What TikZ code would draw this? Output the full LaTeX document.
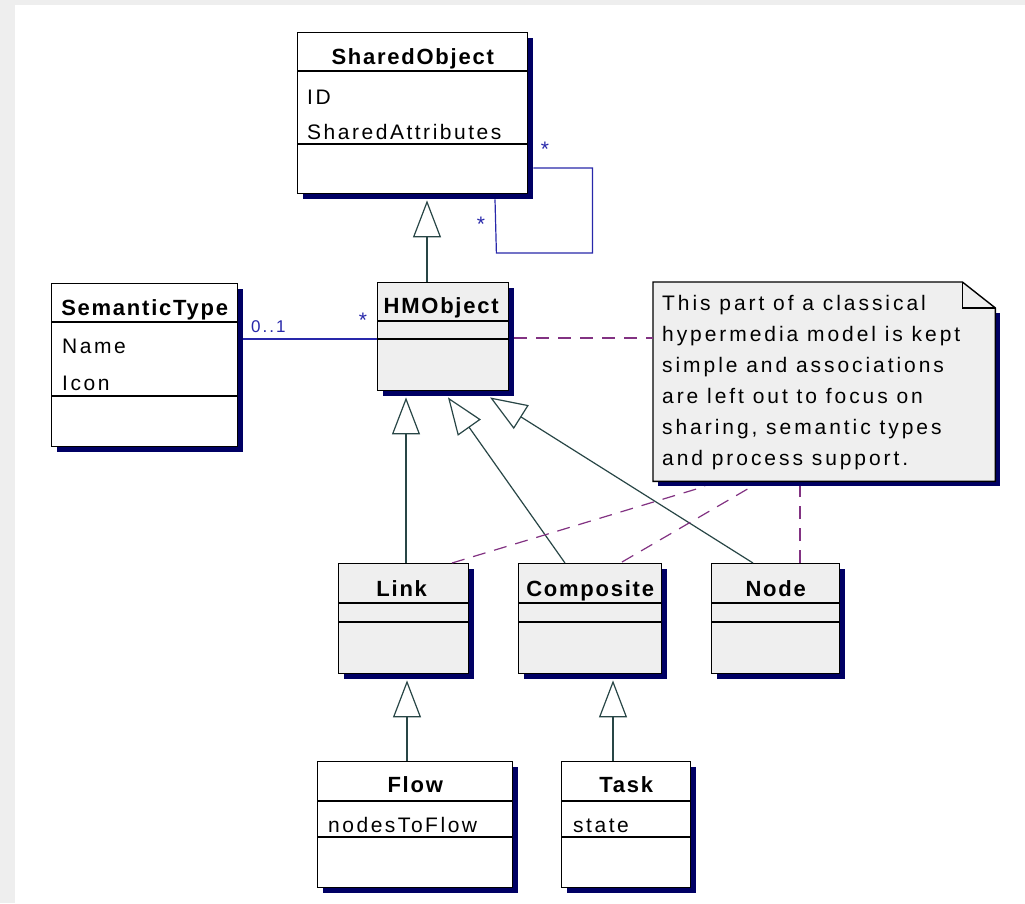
\documentclass[tikz,border=0pt]{standalone}
\usepackage{fontspec}
\setmainfont{Liberation Sans}
\newfontfamily\umlreg[LetterSpace=12]{Liberation Sans}
\newfontfamily\umlnote[LetterSpace=14]{Liberation Sans}
\newfontfamily\umlbf[LetterSpace=8]{Liberation Sans Bold}
\usetikzlibrary{arrows.meta,calc,shadows}
\definecolor{shad}{RGB}{0,0,100}
\definecolor{assocblue}{RGB}{40,40,170}
\definecolor{genline}{RGB}{40,70,70}
\definecolor{notedash}{RGB}{130,50,130}
\definecolor{clsgray}{RGB}{239,239,239}
\definecolor{bggray}{RGB}{238,238,238}
\tikzset{
  cls/.style={draw=black, line width=1.4pt, rectangle, inner sep=0pt, anchor=north west,
    drop shadow={shadow xshift=5pt, shadow yshift=-5pt, fill=shad, opacity=1}},
  sepline/.style={draw=black, line width=1.4pt},
  title/.style={anchor=base, inner sep=0pt, font=\umlbf\fontsize{22}{26}\selectfont},
  attr/.style={anchor=base west, inner sep=0pt, font=\umlreg\fontsize{21}{25}\selectfont},
  notetext/.style={anchor=base west, inner sep=0pt, font=\umlnote\fontsize{21}{25}\selectfont},
  mult/.style={inner sep=0pt, text=assocblue, font=\umlreg\fontsize{17}{20}\selectfont},
  star/.style={inner sep=0pt, text=assocblue, font=\umlreg\fontsize{21}{24}\selectfont},
  gen/.style={draw=genline, line width=1.2pt, -{Triangle[open, length=37pt, width=28pt]}},
  assoc/.style={draw=assocblue, line width=1.2pt},
  notedash/.style={draw=notedash, line width=1.2pt, dash pattern=on 13pt off 9pt},
  notebox/.style={draw=black, line width=1.4pt, fill=clsgray},
}
\begin{document}
\begin{tikzpicture}[x=1pt, y=-1pt]
\useasboundingbox (0,0) rectangle (1025,903);
\fill[bggray] (0,0) rectangle (1025,903);
\fill[white] (15,5) rectangle (1025,903);

% classes
\node[cls, fill=white, minimum width=230pt, minimum height=161pt] (so) at (297,32) {};
\node[cls, fill=white, minimum width=186pt, minimum height=163pt] (st) at (51,283) {};
\node[cls, fill=clsgray, minimum width=131pt, minimum height=108pt] (hm) at (377,282) {};
\node[cls, fill=clsgray, minimum width=130pt, minimum height=110pt] (link) at (338,563) {};
\node[cls, fill=clsgray, minimum width=143pt, minimum height=110pt] (comp) at (518,563) {};
\node[cls, fill=clsgray, minimum width=128pt, minimum height=110pt] (node) at (711,563) {};
\node[cls, fill=white, minimum width=195pt, minimum height=126pt] (flow) at (317,761) {};
\node[cls, fill=white, minimum width=129pt, minimum height=126pt] (task) at (561,761) {};

% separators
\draw[sepline] ($(so.north west)+(0,39)$) -- ($(so.north east)+(0,39)$);
\draw[sepline] ($(so.north west)+(0,112)$) -- ($(so.north east)+(0,112)$);
\draw[sepline] ($(st.north west)+(0,39)$) -- ($(st.north east)+(0,39)$);
\draw[sepline] ($(st.north west)+(0,113)$) -- ($(st.north east)+(0,113)$);
\draw[sepline] ($(hm.north west)+(0,39)$) -- ($(hm.north east)+(0,39)$);
\draw[sepline] ($(hm.north west)+(0,57)$) -- ($(hm.north east)+(0,57)$);
\foreach \b in {link,comp,node}{
  \draw[sepline] ($(\b.north west)+(0,40)$) -- ($(\b.north east)+(0,40)$);
  \draw[sepline] ($(\b.north west)+(0,59)$) -- ($(\b.north east)+(0,59)$);
}
\foreach \b in {flow,task}{
  \draw[sepline] ($(\b.north west)+(0,40)$) -- ($(\b.north east)+(0,40)$);
  \draw[sepline] ($(\b.north west)+(0,76)$) -- ($(\b.north east)+(0,76)$);
}

% texts
\node[title] (soT) at ($(so.north)+(0,32)$) {SharedObject};
\node[attr] (soA1) at ($(so.north west)+(10,72)$) {ID};
\node[attr] (soA2) at ($(so.north west)+(10,107)$) {SharedAttributes};
\node[title] (stT) at ($(st.north)+(0,32)$) {SemanticType};
\node[attr] (stA1) at ($(st.north west)+(11,70)$) {Name};
\node[attr] (stA2) at ($(st.north west)+(11,107)$) {Icon};
\node[title] (hmT) at ($(hm.north)+(-2,31)$) {HMObject};
\node[title] (linkT) at ($(link.north)+(-2,33)$) {Link};
\node[title] (compT) at ($(comp.north)+(0,33)$) {Composite};
\node[title] (nodeT) at ($(node.north)+(0,33)$) {Node};
\node[title] (flowT) at ($(flow.north)+(0,31)$) {Flow};
\node[attr] (flowA) at ($(flow.north west)+(11,71)$) {nodesToFlow};
\node[title] (taskT) at ($(task.north)+(0,31)$) {Task};
\node[attr] (taskA) at ($(task.north west)+(12,71)$) {state};

% note
\node[minimum width=342pt, minimum height=199pt, anchor=north west, inner sep=0pt] (note) at (653,282) {};
\fill[shad] ($(note.north east)+(5,31)$) rectangle ($(note.south west)+(5,5)$);
\draw[notebox] (note.north west) -- ($(note.north east)+(-33,0)$) -- ($(note.north east)+(0,26)$)
  -- (note.south east) -- (note.south west) -- cycle;
\draw[line width=1.4pt] ($(note.north east)+(-33,0)$) -- ($(note.north east)+(-33,26)$) -- ($(note.north east)+(0,26)$);
\node[notetext] (n1) at ($(note.north west)+(9,28)$) {This part of a classical};
\node[notetext] (n2) at ($(note.north west)+(9,59)$) {hypermedia model is kept};
\node[notetext] (n3) at ($(note.north west)+(9,90)$) {simple and associations};
\node[notetext] (n4) at ($(note.north west)+(9,121)$) {are left out to focus on};
\node[notetext] (n5) at ($(note.north west)+(9,152)$) {sharing, semantic types};
\node[notetext] (n6) at ($(note.north west)+(9,183)$) {and process support.};

% generalizations
\draw[gen] ($(hm.north west)+(50,0)$) -- ($(so.south west)+(130,6)$);
\draw[gen] ($(link.north west)+(68,0)$) -- ($(hm.south west)+(29,6)$);
\draw[gen] ($(comp.north west)+(47,0)$) -- ($(hm.south west)+(71,6)$);
\draw[gen] ($(node.north west)+(42,0)$) -- ($(hm.south west)+(113,6)$);
\draw[gen] ($(flow.north west)+(90,0)$) -- ($(link.south west)+(69,6)$);
\draw[gen] ($(task.north west)+(52,0)$) -- ($(comp.south west)+(95,6)$);

% associations
\draw[assoc] ($(st.north east)+(5,56)$) -- ($(hm.north west)+(0,57)$);
\node[mult, anchor=base west] (m01) at (251,332) {0..1};
\node[star] (mstar1) at (363,320) {*};
\draw[assoc] ($(so.north east)+(5,136)$) -- ++(59,0) -- ++(0,85) -- ++(-96,0) -- ($(so.south west)+(198,5)$);
\node[star] (mstar2) at (545,149) {*};
\node[star] (mstar3) at (481,224) {*};

% note links
\draw[notedash] ($(hm.north east)+(5,56)$) -- ($(note.north west)+(0,56)$);
\draw[notedash] ($(link.north west)+(114,0)$) -- ($(note.south west)+(52,5)$);
\draw[notedash] ($(comp.north west)+(104,-1)$) -- ($(note.south west)+(99,5)$);
\draw[notedash] ($(node.north west)+(89,0)$) -- ($(note.south west)+(147,5)$);
\end{tikzpicture}
\end{document}
